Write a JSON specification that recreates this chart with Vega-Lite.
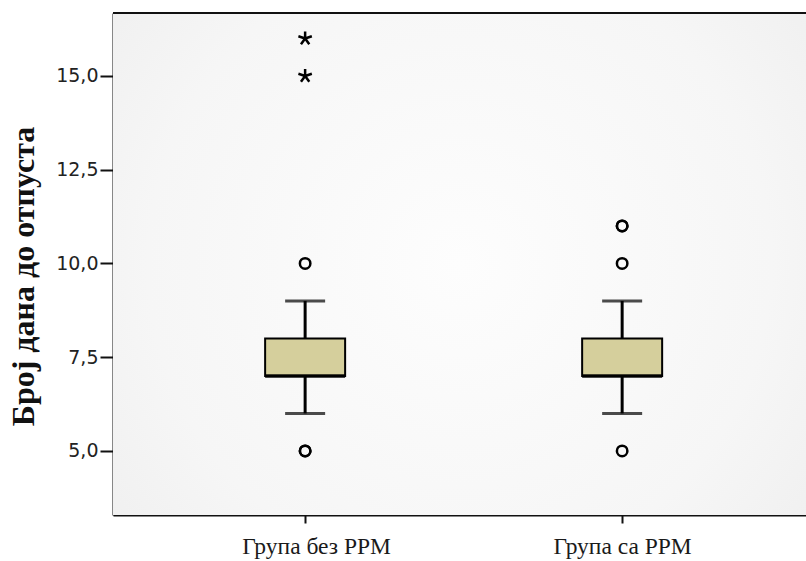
{
  "$schema": "https://vega.github.io/schema/vega-lite/v6.json",
  "autosize": "none",
  "padding": {"left": 113, "top": 13, "right": 0, "bottom": 46},
  "width": 693,
  "height": 502,
  "background": "#ffffff",
  "datasets": {
    "summary": [
      {"group": "Група без РРМ", "lower": 6, "q1": 7, "median": 7, "q3": 8, "upper": 9},
      {"group": "Група са РРМ", "lower": 6, "q1": 7, "median": 7, "q3": 8, "upper": 9}
    ],
    "outliers": [
      {"group": "Група без РРМ", "days": 5, "kind": "outlier"},
      {"group": "Група без РРМ", "days": 5, "kind": "outlier"},
      {"group": "Група без РРМ", "days": 10, "kind": "outlier"},
      {"group": "Група без РРМ", "days": 15, "kind": "extreme"},
      {"group": "Група без РРМ", "days": 16, "kind": "extreme"},
      {"group": "Група са РРМ", "days": 5, "kind": "outlier"},
      {"group": "Група са РРМ", "days": 10, "kind": "outlier"},
      {"group": "Група са РРМ", "days": 11, "kind": "outlier"},
      {"group": "Група са РРМ", "days": 11, "kind": "outlier"}
    ],
    "frame": [{"top": 16.68}]
  },
  "encoding": {
    "x": {
      "field": "group",
      "type": "nominal",
      "sort": ["Група без РРМ", "Група са РРМ"],
      "scale": {"type": "point", "padding": 0.593, "align": 0.511},
      "axis": {
        "title": null,
        "labelAngle": 0,
        "labelFont": "Liberation Serif",
        "labelFontSize": 23.5,
        "labelColor": "#1a1a1a",
        "labelPadding": 11,
        "labelOffset": {"condition": {"test": "datum.value == 'Група без РРМ'", "value": 11}, "value": 0},
        "tickSize": 8,
        "tickWidth": 2,
        "tickColor": "#111111",
        "domainColor": "#111111",
        "domainWidth": 2
      }
    }
  },
  "layer": [
    {
      "data": {"name": "frame"},
      "mark": {
        "type": "rect",
        "fill": {
          "gradient": "radial",
          "x1": 0.5, "y1": 0.5, "r1": 0,
          "x2": 0.5, "y2": 0.5, "r2": 0.75,
          "stops": [
            {"offset": 0, "color": "#fdfdfd"},
            {"offset": 0.6, "color": "#f6f6f6"},
            {"offset": 1, "color": "#ececec"}
          ]
        }
      },
      "encoding": {"x": null}
    },
    {
      "data": {"name": "frame"},
      "mark": {"type": "rule", "color": "#111111", "strokeWidth": 2},
      "encoding": {"x": null, "y": {"field": "top", "type": "quantitative"}}
    },
    {
      "data": {"name": "summary"},
      "mark": {"type": "rule", "color": "#000000", "strokeWidth": 3},
      "encoding": {
        "y": {
          "field": "lower",
          "type": "quantitative",
          "scale": {"domain": [3.29, 16.68], "nice": false, "zero": false},
          "axis": {
            "title": "Број дана до отпуста",
            "titleFont": "Liberation Serif",
            "titleFontWeight": "bold",
            "titleFontSize": 32,
            "titleColor": "#111111",
            "titlePadding": 15,
            "titleY": 263,
            "values": [5, 7.5, 10, 12.5, 15],
            "labelExpr": "replace(format(datum.value, '.1f'), '.', ',')",
            "labelFont": "DejaVu Sans",
            "labelFontSize": 19,
            "labelColor": "#222222",
            "labelPadding": 2,
            "tickSize": 13,
            "tickWidth": 2,
            "tickColor": "#111111",
            "domainColor": "#111111",
            "domainWidth": 2,
            "grid": false
          }
        },
        "y2": {"field": "upper"}
      }
    },
    {
      "data": {"name": "summary"},
      "mark": {"type": "tick", "color": "#000000", "size": 40, "thickness": 3},
      "encoding": {"y": {"field": "lower", "type": "quantitative"}}
    },
    {
      "data": {"name": "summary"},
      "mark": {"type": "tick", "color": "#000000", "size": 40, "thickness": 3},
      "encoding": {"y": {"field": "upper", "type": "quantitative"}}
    },
    {
      "data": {"name": "summary"},
      "mark": {"type": "bar", "size": 80, "fill": "#d5cf9c", "stroke": "#000000", "strokeWidth": 2},
      "encoding": {
        "y": {"field": "q1", "type": "quantitative"},
        "y2": {"field": "q3"}
      }
    },
    {
      "data": {"name": "summary"},
      "mark": {"type": "tick", "color": "#000000", "size": 80, "thickness": 4},
      "encoding": {"y": {"field": "median", "type": "quantitative"}}
    },
    {
      "data": {"name": "outliers"},
      "mark": {"type": "point", "filled": false, "color": "#000000", "strokeWidth": 2.5, "opacity": 1},
      "encoding": {
        "y": {"field": "days", "type": "quantitative"},
        "shape": {
          "field": "kind",
          "type": "nominal",
          "scale": {
            "domain": ["outlier", "extreme"],
            "range": ["circle", "M0,0L0,-1M0,0L0.951,-0.309M0,0L0.588,0.809M0,0L-0.588,0.809M0,0L-0.951,-0.309"]
          },
          "legend": null
        },
        "size": {
          "field": "kind",
          "type": "nominal",
          "scale": {"domain": ["outlier", "extreme"], "range": [110, 200]},
          "legend": null
        }
      }
    }
  ],
  "config": {
    "view": {"stroke": null}
  }
}
